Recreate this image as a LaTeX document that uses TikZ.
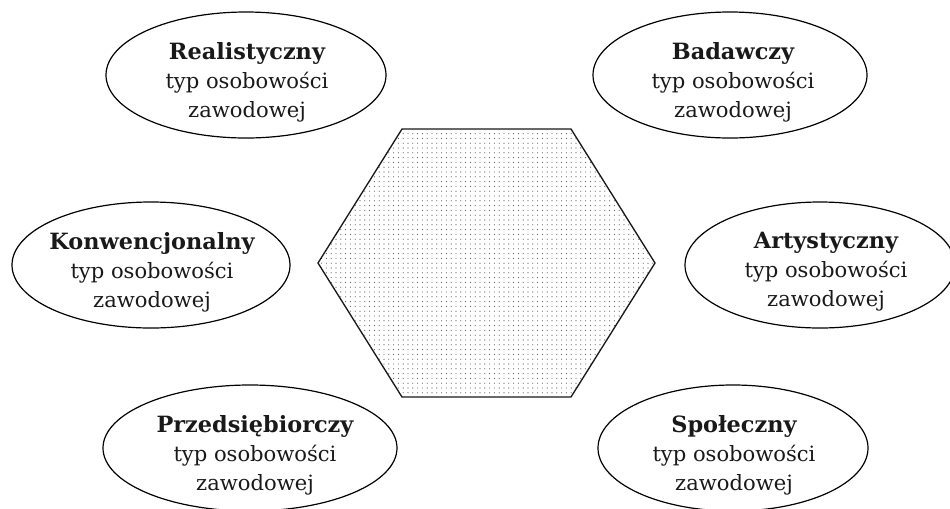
\documentclass[tikz,border=0pt]{standalone}
\usepackage{fontspec}
\setmainfont{DejaVu Serif}
\usetikzlibrary{shapes.geometric,patterns.meta}
\newcommand\typname[1]{{\fontsize{16.8pt}{21.75pt}\selectfont\bfseries #1}}
\begin{document}
\begin{tikzpicture}[x=0.75pt,y=-0.75pt,
  typebox/.style={draw=black,line width=0.9pt,ellipse,inner sep=0pt,minimum height=94.5pt},
  typetext/.style={align=center,inner sep=0pt,font=\fontsize{15.8pt}{21.75pt}\selectfont,text=black!90},
  hexfill/.style={draw=black!90,line width=1pt,pattern={Dots[distance=3.6pt,radius=0.42pt]},pattern color=black!65}]
\useasboundingbox (0,0) rectangle (950,508);
% central hexagon
\coordinate (h1) at (402,129);
\coordinate (h2) at (571,129);
\coordinate (h3) at (655,263);
\coordinate (h4) at (571,397);
\coordinate (h5) at (402,397);
\coordinate (h6) at (318,263);
\draw[hexfill] (h1) -- (h2) -- (h3) -- (h4) -- (h5) -- (h6) -- cycle;
% ellipses
\node[typebox,minimum width=210pt] (R) at (246,75) {};
\node[typebox,minimum width=205.5pt] (B) at (730,75) {};
\node[typebox,minimum width=208.5pt] (K) at (151,265) {};
\node[typebox,minimum width=202.5pt] (A) at (820,265) {};
\node[typebox,minimum width=220.5pt] (P) at (250,448) {};
\node[typebox,minimum width=202.5pt] (S) at (733,448) {};
% texts
\node[typetext] (Rt) at (247,82) {\typname{Realistyczny}\\typ osobowości\\zawodowej};
\node[typetext] (Bt) at (733,82) {\typname{Badawczy}\\typ osobowości\\zawodowej};
\node[typetext] (Kt) at (152,272) {\typname{Konwencjonalny}\\typ osobowości\\zawodowej};
\node[typetext] (At) at (826,272) {\typname{Artystyczny}\\typ osobowości\\zawodowej};
\node[typetext] (Pt) at (255,455) {\typname{Przedsiębiorczy}\\typ osobowości\\zawodowej};
\node[typetext] (St) at (734,455) {\typname{Społeczny}\\typ osobowości\\zawodowej};
\end{tikzpicture}
\end{document}
